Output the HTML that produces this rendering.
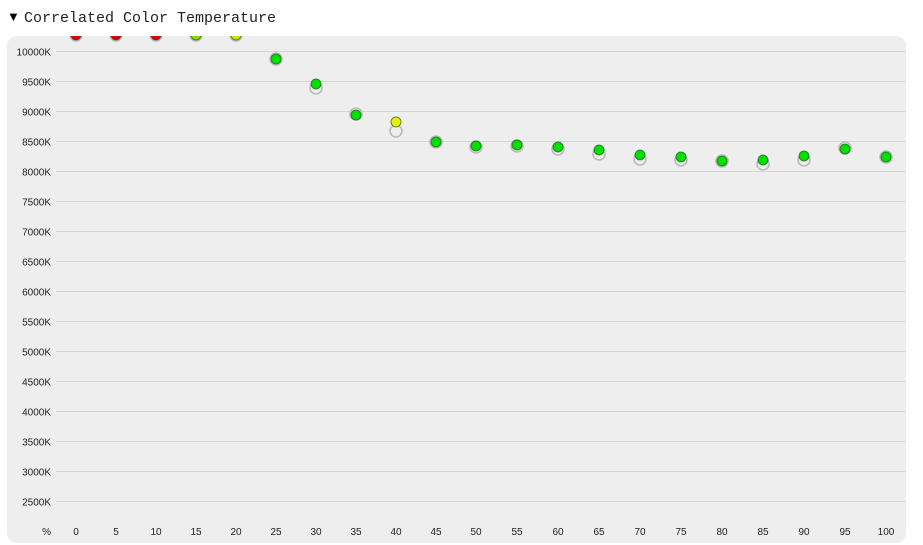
<!DOCTYPE html>
<html><head><meta charset="utf-8"><style>
body{margin:0;background:#fff;width:923px;height:545px;overflow:hidden;font-family:"Liberation Mono","Noto Sans CJK SC",monospace;}
</style></head><body>
<svg width="923" height="545" xmlns="http://www.w3.org/2000/svg" style="position:absolute;left:0;top:0">
<defs><clipPath id="c"><rect x="7" y="36" width="899" height="507" rx="10"/></clipPath></defs>
<text x="7" y="21" font-family="Liberation Sans, sans-serif" font-size="13" fill="#000">▼</text>
<text x="24" y="22" font-family="Liberation Mono, monospace" font-size="15" fill="#222">Correlated Color Temperature</text>
<rect x="7" y="36" width="899" height="507" rx="10" fill="#eeeeee"/>
<g stroke="#d6d6d6" stroke-width="1" id="grid"></g>
<g font-family="Liberation Sans, sans-serif" font-size="10" fill="#222" id="lab"></g>
<g clip-path="url(#c)" id="pts"></g>
</svg>
<script>
var ns="http://www.w3.org/2000/svg";
function el(t,a,p,txt){var e=document.createElementNS(ns,t);for(var k in a)e.setAttribute(k,a[k]);if(txt!=null)e.textContent=txt;document.getElementById(p).appendChild(e);}
var X=[76,116,156,196,236,276,316,356,396,436,476,517,558,599,640,681,722,763,804,845,886];
for(var i=0;i<=15;i++){var y=51.5+i*30;el('line',{x1:56,x2:906,y1:y,y2:y},'grid');
el('text',{x:51,y:y+4,'text-anchor':'end'},'lab',(10000-i*500)+'K');}
el('text',{x:51,y:535,'text-anchor':'end'},'lab','%');
for(var j=0;j<=20;j++){el('text',{x:X[j],y:535,'text-anchor':'middle'},'lab',String(j*5));}
var d=[[0,35,35,'#e00000'],[5,35,35,'#e00000'],[10,35,35,'#e00000'],[15,35,35,'#80e000'],[20,35,35,'#d0e000'],
[25,59,59,'#00e000'],[30,84,88,'#00e000'],[35,115,114,'#00e000'],[40,122,131,'#e8f000'],[45,142,142,'#00e000'],
[50,146,147,'#00e000'],[55,145,146,'#00e000'],[60,147,149,'#00e000'],[65,150,154,'#00e000'],[70,155,159,'#00e000'],
[75,157,160,'#00e000'],[80,161,161,'#00e000'],[85,160,164,'#00e000'],[90,156,160,'#00e000'],[95,149,148,'#00e000'],[100,157,157,'#00e000']];
d.forEach(function(p){var x=X[p[0]/5];
el('circle',{cx:x,cy:p[2],r:6,fill:'none',stroke:'#bbb','stroke-width':1.6},'pts');
el('circle',{cx:x,cy:p[1],r:5,fill:p[3],stroke:'rgba(0,70,0,0.6)','stroke-width':1},'pts');});
</script>
</body></html>
